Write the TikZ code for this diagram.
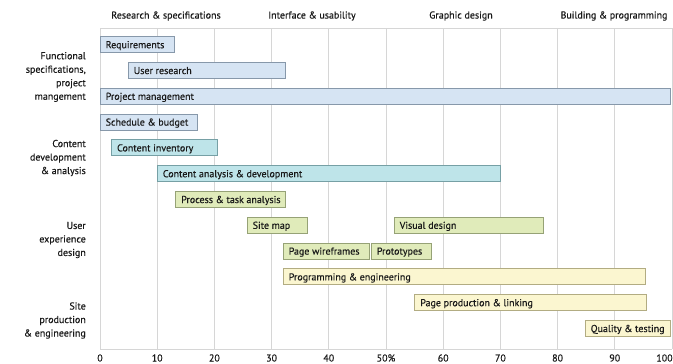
\documentclass[tikz,border=0pt]{standalone}
\usepackage{fontspec}
\setmainfont{PT Sans}
\newfontfamily\chartfont{PT Sans}[FakeBold=0.35]
\definecolor{barblue}{RGB}{214,228,243}
\definecolor{barbluedk}{RGB}{135,152,170}
\definecolor{barcyan}{RGB}{190,228,233}
\definecolor{barcyandk}{RGB}{118,160,165}
\definecolor{bargreen}{RGB}{224,235,186}
\definecolor{bargreendk}{RGB}{150,162,118}
\definecolor{baryellow}{RGB}{251,246,208}
\definecolor{baryellowdk}{RGB}{178,172,130}
\definecolor{gridgray}{RGB}{214,214,214}
\definecolor{inkgray}{RGB}{25,25,25}

\begin{document}
\begin{tikzpicture}[x=5.72pt,y=-1pt,font=\chartfont\fontsize{10}{13.5}\selectfont,text=inkgray,
  bluebar/.style={draw=barbluedk,fill=barblue,line width=1pt},
  cyanbar/.style={draw=barcyandk,fill=barcyan,line width=1pt},
  greenbar/.style={draw=bargreendk,fill=bargreen,line width=1pt},
  yellowbar/.style={draw=baryellowdk,fill=baryellow,line width=1pt},
  barlabel/.style={anchor=west,inner sep=0pt,xshift=5.5pt,text height=8pt,text depth=1pt},
  grouplabel/.style={anchor=east,align=right,inner sep=0pt},
  phaselabel/.style={inner sep=0pt},
  ticklabel/.style={inner sep=0pt}]
\useasboundingbox (-17.483,0) rectangle (100.175,364);

% Grid
\foreach \x in {0,10,...,100}
  \draw[gridgray,line width=0.8pt] (\x,28) -- (\x,349);
\draw[gridgray,line width=0.8pt] (0,28) -- (100,28);
\draw[gridgray,line width=0.8pt] (0,349) -- (100,349);

% Percent scale
\foreach \x/\t in {0/0,10/10,20/20,30/30,40/40,50/50\%,60/60,70/70,80/80,90/90}
  \node[ticklabel] (tick\x) at (\x,358) {\t};
\node[ticklabel,anchor=east] (tick100) at (100.15,358) {100};

% Phases
\node[phaselabel] (research) at (11.54,16) {Research \& specifications};
\node[phaselabel] (interface) at (37.06,16) {Interface \& usability};
\node[phaselabel] (graphic) at (63.11,16) {Graphic design};
\node[phaselabel] (building) at (89.86,16) {Building \& programming};

% Groups
\node[grouplabel] (functional) at (-2.45,77) {Functional\\specifications,\\project\\mangement};
\node[grouplabel] (content) at (-2.45,158) {Content\\development\\\& analysis};
\node[grouplabel] (userexp) at (-2.45,240) {User\\experience\\design};
\node[grouplabel] (siteprod) at (-2.45,320.5) {Site\\production\\\& engineering};

% Tasks
\foreach \name/\a/\b/\y/\kind/\txt in {
  requirements/0/13/44.7/bluebar/Requirements,
  userresearch/4.9/32.5/70.5/bluebar/User research,
  projectmgmt/0/99.7/96.3/bluebar/Project management,
  schedule/0/17/122.1/bluebar/Schedule \& budget,
  inventory/2/20.5/147.9/cyanbar/Content inventory,
  analysis/10/70/173.7/cyanbar/Content analysis \& development,
  process/13.2/32.5/199.5/greenbar/Process \& task analysis,
  sitemap/25.7/36.2/225.3/greenbar/Site map,
  visual/51.4/77.6/225.3/greenbar/Visual design,
  wireframes/32/47.2/251.1/greenbar/Page wireframes,
  prototypes/47.4/58/251.1/greenbar/Prototypes,
  programming/32/95.3/276.9/yellowbar/Programming \& engineering,
  production/55/95.5/302.7/yellowbar/Page production \& linking,
  quality/84.8/99.8/328.5/yellowbar/Quality \& testing}{
  \draw[\kind] (\a,\y-8) rectangle (\b,\y+8);
  \node[barlabel] (\name) at (\a,\y) {\txt};
}
\end{tikzpicture}
\end{document}
